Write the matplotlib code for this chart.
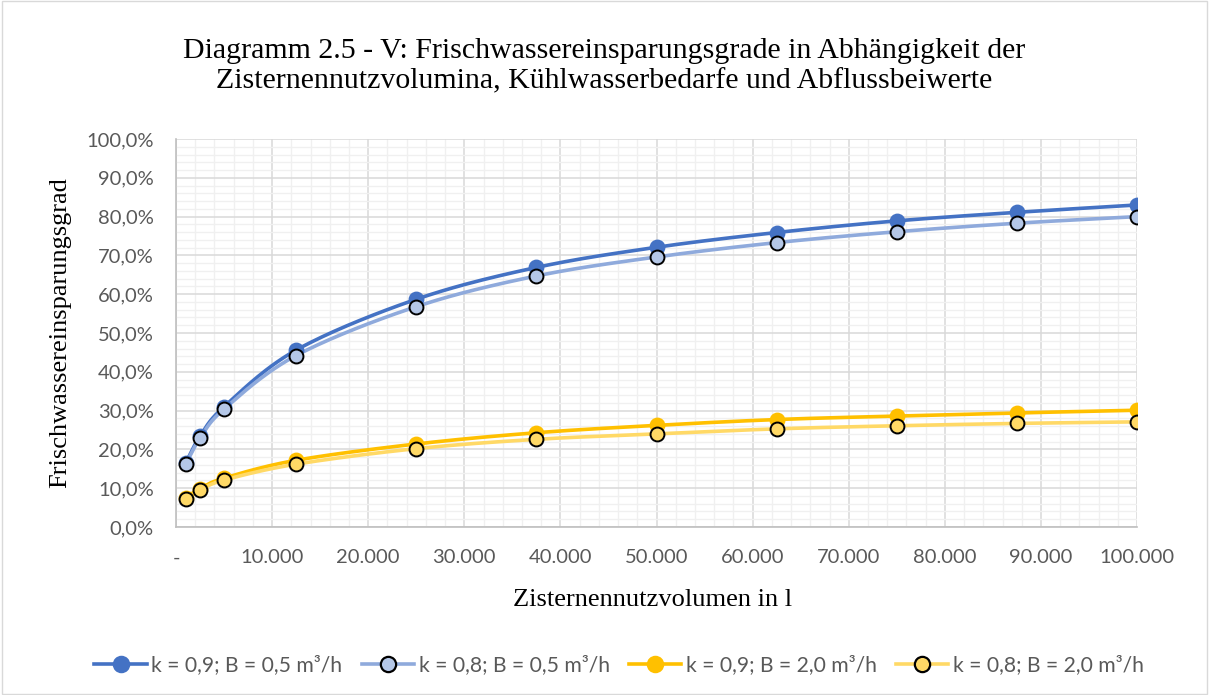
import numpy as np
import matplotlib
matplotlib.use("Agg")
import matplotlib.pyplot as plt
from matplotlib.ticker import FuncFormatter, MultipleLocator
from matplotlib.patches import Rectangle

# ---- data ----
volumes = [1000, 2500, 5000, 12500, 25000, 37500, 50000, 62500, 75000, 87500, 100000]
s_k09_b05 = [16.5, 23.4, 31.0, 45.6, 58.7, 66.9, 72.1, 75.9, 78.9, 81.1, 83.0]
s_k08_b05 = [16.2, 22.9, 30.4, 44.2, 56.8, 64.7, 69.6, 73.3, 76.1, 78.3, 80.0]
s_k09_b20 = [7.5, 9.9, 12.6, 17.2, 21.4, 24.3, 26.2, 27.7, 28.6, 29.4, 30.1]
s_k08_b20 = [7.2, 9.5, 12.1, 16.2, 20.2, 22.6, 24.0, 25.3, 26.1, 26.7, 27.1]
labels = ["k = 0,9; B = 0,5 m³/h", "k = 0,8; B = 0,5 m³/h",
          "k = 0,9; B = 2,0 m³/h", "k = 0,8; B = 2,0 m³/h"]

title = "Diagramm 2.5 - V: Frischwassereinsparungsgrade in Abhängigkeit der\nZisternennutzvolumina, Kühlwasserbedarfe und Abflussbeiwerte"
xlabel = "Zisternennutzvolumen in l"
ylabel = "Frischwassereinsparungsgrad"


def smooth(x, y, n=30):
    x = np.asarray(x, float); y = np.asarray(y, float)
    px = np.concatenate([[2 * x[0] - x[1]], x, [2 * x[-1] - x[-2]]])
    py = np.concatenate([[2 * y[0] - y[1]], y, [2 * y[-1] - y[-2]]])
    xs, ys = [], []
    t = np.linspace(0, 1, n)
    for i in range(1, len(px) - 2):
        p0x, p1x, p2x, p3x = px[i - 1:i + 3]
        p0y, p1y, p2y, p3y = py[i - 1:i + 3]
        c1x = p1x + (p2x - p0x) / 6; c1y = p1y + (p2y - p0y) / 6
        c2x = p2x - (p3x - p1x) / 6; c2y = p2y - (p3y - p1y) / 6
        bx = (1 - t) ** 3 * p1x + 3 * (1 - t) ** 2 * t * c1x + 3 * (1 - t) * t ** 2 * c2x + t ** 3 * p2x
        by = (1 - t) ** 3 * p1y + 3 * (1 - t) ** 2 * t * c1y + 3 * (1 - t) * t ** 2 * c2y + t ** 3 * p2y
        xs.extend(bx); ys.extend(by)
    return np.array(xs), np.array(ys)


fig = plt.figure(figsize=(12.09, 6.95), dpi=100)
fig.patches.append(Rectangle((0.002, 0.002), 0.996, 0.996, transform=fig.transFigure,
                             fill=False, edgecolor="#d9d9d9", linewidth=1))
ax = fig.add_axes([0.1456, 0.2417, 0.7949, 0.5583])

series = [
    (s_k09_b05, "#4472C4", "#4472C4", "#4472C4"),
    (s_k08_b05, "#8FAADC", "#B4C7E7", "black"),
    (s_k09_b20, "#FFC000", "#FFC000", "#FFC000"),
    (s_k08_b20, "#FFD966", "#FFD966", "black"),
]
handles = []
for (vals, lc, mfc, mec), lab in zip(series, labels):
    sx, sy = smooth(volumes, vals)
    ax.plot(sx, sy, color=lc, lw=2.6, zorder=3, solid_capstyle="round")
    ax.plot(volumes, vals, ls="none", marker="o", ms=10, mfc=mfc, mec=mec, mew=1.4, zorder=4)
    h, = ax.plot([], [], color=lc, lw=2.6, marker="o", ms=11, mfc=mfc, mec=mec, mew=1.6)
    handles.append(h)

ax.set_xlim(0, 100000)
ax.set_ylim(0, 100)
ax.xaxis.set_major_locator(MultipleLocator(10000))
ax.xaxis.set_minor_locator(MultipleLocator(2000))
ax.yaxis.set_major_locator(MultipleLocator(10))
ax.yaxis.set_minor_locator(MultipleLocator(2))
ax.grid(which="major", color="#d9d9d9", lw=1.1, zorder=0)
ax.grid(which="minor", color="#f0f0f0", lw=1.0, zorder=0)
ax.set_axisbelow(True)


def xfmt(v, p):
    if abs(v) < 1e-9:
        return "-"
    return f"{int(round(v)):,}".replace(",", ".")


def yfmt(v, p):
    return f"{v:.1f}%".replace(".", ",")


ax.xaxis.set_major_formatter(FuncFormatter(xfmt))
ax.yaxis.set_major_formatter(FuncFormatter(yfmt))
ax.tick_params(which="both", length=0, labelsize=14.5, labelcolor="#595959")
ax.tick_params(axis="x", pad=16)
ax.tick_params(axis="y", pad=16)
for s in ["top", "right"]:
    ax.spines[s].set_visible(False)
for s in ["left", "bottom"]:
    ax.spines[s].set_color("#bfbfbf")
    ax.spines[s].set_linewidth(1.2)
for lab in ax.get_xticklabels() + ax.get_yticklabels():
    lab.set_family("Lato")

serif = "Liberation Serif"
fig.text(0.5, 0.905, title, ha="center", va="center", fontsize=21.5, family=serif,
         color="black", linespacing=1.22)
fig.text(0.5395, 0.137, xlabel, ha="center", va="center", fontsize=19, family=serif)
fig.text(0.05, 0.521, ylabel, ha="center", va="center", rotation=90, fontsize=19, family=serif)

fig.legend(handles, labels, loc="center", bbox_to_anchor=(0.512, 0.043), ncol=4, frameon=False,
           prop={"family": "Lato", "size": 15.2}, handlelength=2.5, columnspacing=0.9,
           handletextpad=0.2, labelcolor="#595959")

fig.savefig("out.png", dpi=100)
